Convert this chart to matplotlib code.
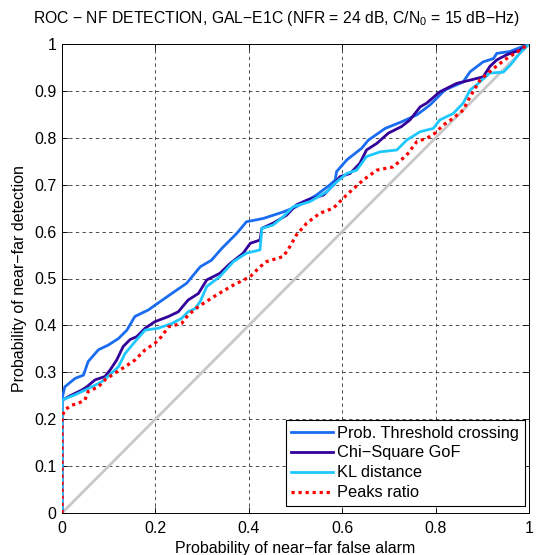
import matplotlib
matplotlib.use("Agg")
import matplotlib.pyplot as plt
import numpy as np

plt.rcParams['font.family'] = ['Liberation Sans', 'DejaVu Sans']
plt.rcParams['mathtext.fontset'] = 'custom'
plt.rcParams['mathtext.rm'] = 'Liberation Sans'
plt.rcParams['mathtext.it'] = 'Liberation Sans'

title = "ROC \u2212 NF DETECTION, GAL\u2212E1C (NFR = 24 dB, C/N$_0$ = 15 dB\u2212Hz)"
xlabel = "Probability of near\u2212far false alarm"
ylabel = "Probability of near\u2212far detection"
labels = ["Prob. Threshold crossing", "Chi\u2212Square GoF", "KL distance", "Peaks ratio"]

ptc_x = [0, 0, 0.006, 0.028, 0.046, 0.056, 0.078, 0.099, 0.121, 0.139, 0.156, 0.185, 0.199,
         0.235, 0.267, 0.296, 0.32, 0.342, 0.374, 0.395, 0.431, 0.474, 0.502, 0.545, 0.574,
         0.585, 0.588, 0.61, 0.642, 0.656, 0.692, 0.727, 0.76, 0.788, 0.82, 0.859, 0.874,
         0.902, 0.924, 0.931, 0.959, 1.0]
ptc_y = [0, 0.244, 0.269, 0.287, 0.294, 0.323, 0.348, 0.358, 0.372, 0.390, 0.419, 0.433, 0.443,
         0.468, 0.49, 0.525, 0.539, 0.564, 0.596, 0.621, 0.628, 0.642, 0.653, 0.678, 0.70,
         0.71, 0.728, 0.753, 0.778, 0.795, 0.82, 0.834, 0.849, 0.87, 0.902, 0.919, 0.941,
         0.962, 0.969, 0.98, 0.984, 1.0]

chi_x = [0, 0, 0.0135, 0.042, 0.053, 0.071, 0.092, 0.103, 0.117, 0.131, 0.146, 0.16, 0.178,
         0.199, 0.228, 0.249, 0.27, 0.292, 0.31, 0.338, 0.36, 0.388, 0.403, 0.424, 0.428,
         0.452, 0.481, 0.502, 0.524, 0.56, 0.581, 0.595, 0.617, 0.638, 0.652, 0.674, 0.699,
         0.727, 0.745, 0.767, 0.781, 0.809, 0.845, 0.874, 0.902, 0.916, 0.931, 0.952, 0.981, 1.0]
chi_y = [0, 0.24, 0.248, 0.262, 0.269, 0.284, 0.291, 0.305, 0.326, 0.355, 0.37, 0.376, 0.394,
         0.408, 0.419, 0.429, 0.454, 0.468, 0.497, 0.511, 0.532, 0.554, 0.575, 0.582, 0.607,
         0.618, 0.635, 0.657, 0.667, 0.678, 0.699, 0.717, 0.724, 0.746, 0.774, 0.788, 0.81,
         0.824, 0.838, 0.866, 0.874, 0.898, 0.916, 0.923, 0.93, 0.952, 0.966, 0.977, 0.987, 1.0]

kl_x = [0, 0, 0.028, 0.049, 0.064, 0.085, 0.106, 0.121, 0.135, 0.156, 0.178, 0.206, 0.235,
        0.256, 0.27, 0.285, 0.296, 0.31, 0.338, 0.367, 0.395, 0.424, 0.428, 0.452, 0.474,
        0.495, 0.531, 0.567, 0.588, 0.61, 0.631, 0.652, 0.681, 0.717, 0.738, 0.767, 0.795,
        0.809, 0.838, 0.859, 0.874, 0.888, 0.916, 0.945, 0.96, 0.98, 1.0]
kl_y = [0, 0.241, 0.252, 0.262, 0.269, 0.28, 0.298, 0.312, 0.34, 0.365, 0.39, 0.394, 0.404,
        0.415, 0.429, 0.436, 0.451, 0.483, 0.504, 0.536, 0.554, 0.561, 0.607, 0.614, 0.632,
        0.653, 0.664, 0.685, 0.706, 0.724, 0.731, 0.76, 0.77, 0.774, 0.795, 0.813, 0.82,
        0.838, 0.852, 0.874, 0.902, 0.913, 0.938, 0.94, 0.955, 0.98, 1.0]

pr_x = [0, 0, 0.006, 0.021, 0.035, 0.049, 0.056, 0.078, 0.092, 0.113, 0.135, 0.156, 0.178,
        0.199, 0.213, 0.228, 0.256, 0.27, 0.292, 0.331, 0.367, 0.403, 0.424, 0.438, 0.474,
        0.488, 0.502, 0.524, 0.552, 0.581, 0.602, 0.617, 0.645, 0.674, 0.709, 0.738, 0.76,
        0.781, 0.799, 0.816, 0.838, 0.859, 0.874, 0.895, 0.924, 0.952, 0.981, 1.0]
pr_y = [0, 0.205, 0.22, 0.23, 0.234, 0.241, 0.259, 0.269, 0.284, 0.298, 0.312, 0.326, 0.348,
        0.362, 0.376, 0.397, 0.404, 0.422, 0.44, 0.465, 0.486, 0.504, 0.525, 0.536, 0.547,
        0.568, 0.593, 0.618, 0.639, 0.65, 0.671, 0.685, 0.71, 0.731, 0.738, 0.763, 0.792,
        0.799, 0.81, 0.827, 0.842, 0.859, 0.888, 0.923, 0.948, 0.969, 0.987, 1.0]

xticks = [0, 0.2, 0.4, 0.6, 0.8, 1]
xticklabels = ["0", "0.2", "0.4", "0.6", "0.8", "1"]
yticks = [0, 0.1, 0.2, 0.3, 0.4, 0.5, 0.6, 0.7, 0.8, 0.9, 1]
yticklabels = ["0", "0.1", "0.2", "0.3", "0.4", "0.5", "0.6", "0.7", "0.8", "0.9", "1"]

fig = plt.figure(figsize=(5.56, 5.55), dpi=100)
ax = fig.add_axes([62/556, 1 - 513/555, 467/556, 469/555])

ax.plot([0, 1], [0, 1], color='#c8c8c8', lw=2.0, zorder=2)
ax.plot(ptc_x, ptc_y, color='#1a6cf0', lw=2.0, label=labels[0], zorder=3)
ax.plot(chi_x, chi_y, color='#330099', lw=2.0, label=labels[1], zorder=3)
ax.plot(kl_x, kl_y, color='#1ec8ff', lw=2.0, label=labels[2], zorder=3)
ax.plot(pr_x, pr_y, color='#ff0000', lw=2.3, ls=(0, (1, 1.2)), label=labels[3], zorder=4)

ax.set_xlim(0, 1)
ax.set_ylim(0, 1)
ax.set_xticks(xticks)
ax.set_xticklabels(xticklabels)
ax.set_yticks(yticks)
ax.set_yticklabels(yticklabels)
ax.tick_params(axis='x', pad=6)
ax.tick_params(direction='in', length=4, width=0.6, labelsize=11.5,
               top=True, right=True)
ax.tick_params(axis='y', pad=4)
ax.grid(True, color='#303030', ls=(0, (4, 4)), lw=0.6)
for s in ax.spines.values():
    s.set_linewidth(0.7)

fig.text(277/556, 1 - 18/555, title, fontsize=11.3, ha='center', va='center')
ax.set_xlabel(xlabel, fontsize=11.5, labelpad=3)
ax.set_ylabel(ylabel, fontsize=11.5, labelpad=5)

leg = ax.legend(loc='lower right', bbox_to_anchor=((525-62)/467, 7/469),
                fontsize=11.8, frameon=True, fancybox=False,
                edgecolor='black', framealpha=1, borderaxespad=0,
                handlelength=2.55, handletextpad=0.25, labelspacing=0.3,
                borderpad=0.35)
leg.get_frame().set_linewidth(0.8)

fig.savefig("out.png", dpi=100)
